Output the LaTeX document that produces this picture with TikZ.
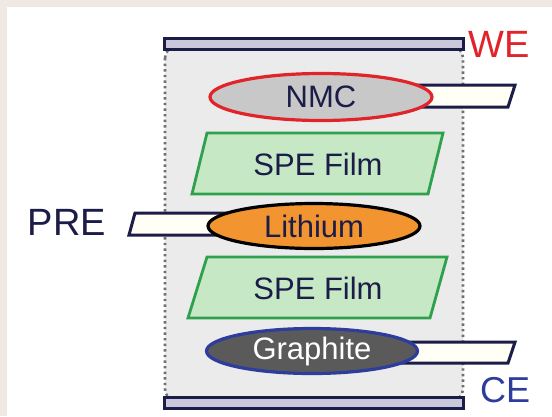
\documentclass[tikz,border=0pt]{standalone}
\usepackage{fontspec}
\setmainfont{Liberation Sans}
\usetikzlibrary{shapes.geometric}
\definecolor{page}{HTML}{F0E8E2}
\definecolor{cellfill}{HTML}{EBEBEB}
\definecolor{dots}{HTML}{707070}
\definecolor{navy}{HTML}{1C1C48}
\definecolor{barfill}{HTML}{C9C9DB}
\definecolor{tabfill}{HTML}{FFFFF6}
\definecolor{filmfill}{HTML}{C6E8C4}
\definecolor{filmline}{HTML}{2FA04E}
\definecolor{nmcfill}{HTML}{C8C8C8}
\definecolor{nmcline}{HTML}{E0242A}
\definecolor{lifill}{HTML}{F29430}
\definecolor{grfill}{HTML}{5A5A5A}
\definecolor{grline}{HTML}{2E3C9C}
\definecolor{weRed}{HTML}{E0242A}
\definecolor{ceBlue}{HTML}{2E3C9C}
\tikzset{
  bar/.style={draw=navy, fill=barfill, line width=3.4pt, inner sep=0pt,
    minimum width=299pt, minimum height=11pt},
  tab/.style={draw=navy, fill=tabfill, line width=3pt, line join=miter},
  film/.style={draw=filmline, fill=filmfill, line width=2.8pt},
  layer/.style={ellipse, inner sep=0pt, line width=3.2pt},
  lbl/.style={font=\fontsize{31}{36}\selectfont, text=navy, inner sep=0pt},
  elbl/.style={font=\fontsize{38}{44}\selectfont, inner sep=0pt, anchor=west},
}
\begin{document}
\begin{tikzpicture}[x=1pt,y=-1pt]
  % page and panel
  \fill[page] (0,0) rectangle (552,416);
  \fill[white] (7,7) rectangle (552,416);
  % cell housing
  \draw[fill=cellfill, draw=dots, line width=2.6pt, dash pattern=on 2.4pt off 3.2pt,
        rounded corners=12pt] (165,46) rectangle (463,401);
  % current collectors
  \node[bar] (webar) at (314,44) {};
  \node[bar] (cebar) at (314,403) {};
  % separator films
  \draw[film] (207,133) -- (443,133) -- (428,194) -- (192,194) -- cycle;
  \node[lbl] (spe1) at (318,164) {SPE Film};
  \draw[film] (207,257) -- (447,257) -- (430,318) -- (188,318) -- cycle;
  \node[lbl] (spe2) at (318,288) {SPE Film};
  % electrode tabs
  \draw[tab] (380,85) -- (515,85) -- (508,107) -- (380,107) -- cycle;
  \draw[tab] (135,213) -- (260,213) -- (260,235) -- (129,235) -- cycle;
  \draw[tab] (380,342) -- (515,342) -- (508,363) -- (380,363) -- cycle;
  % electrodes
  \node[layer, draw=nmcline, fill=nmcfill, minimum width=222pt, minimum height=47pt]
    (nmc) at (321,97) {};
  \node[lbl] at (nmc) {NMC};
  \node[layer, draw=black, fill=lifill, minimum width=212pt, minimum height=45pt]
    (li) at (314,226) {};
  \node[lbl] at (li) {Lithium};
  \node[layer, draw=grline, fill=grfill, minimum width=211pt, minimum height=45pt]
    (gr) at (312,351) {};
  \node[lbl, text=white] at (gr) {Graphite};
  % electrode labels
  \node[elbl, text=weRed] (we) at (468,44) {WE};
  \node[elbl, text=navy, anchor=east] (pre) at (106,222) {PRE};
  \node[elbl, text=ceBlue, font=\fontsize{36}{42}\selectfont] (ce) at (480,390) {CE};
\end{tikzpicture}
\end{document}
